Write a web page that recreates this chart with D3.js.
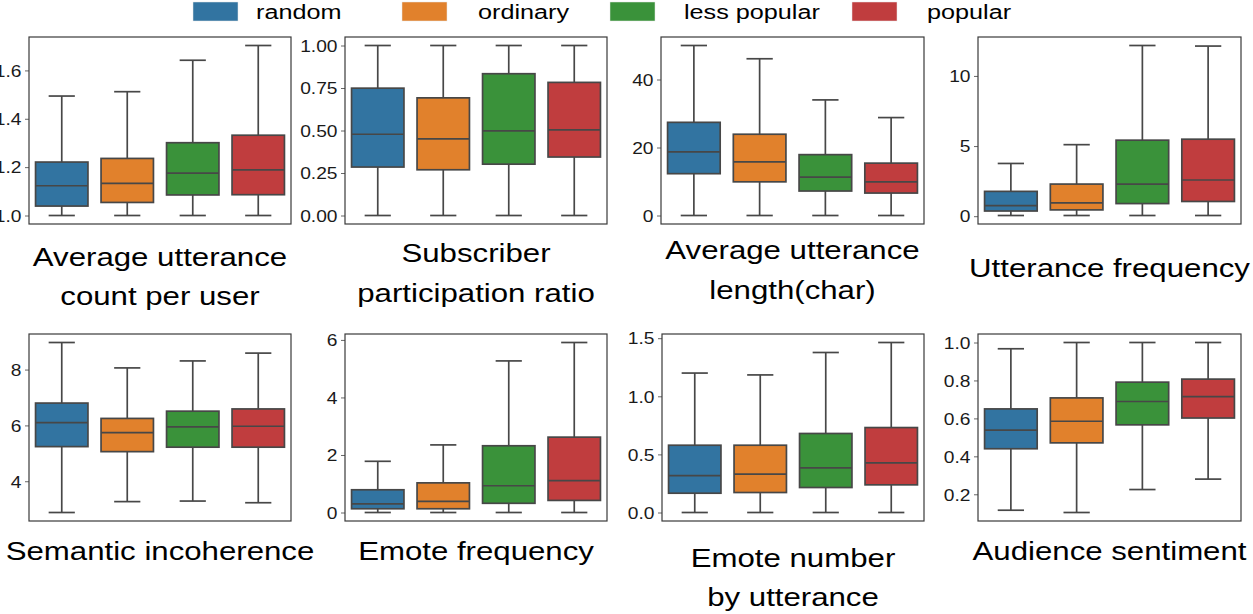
<!DOCTYPE html>
<html>
<head>
<meta charset="utf-8">
<script src="https://cdn.jsdelivr.net/npm/d3@7/dist/d3.min.js"></script>
<style>
  html, body { margin: 0; padding: 0; background: #fff; }
  svg { display: block; font-family: "Liberation Sans", Arial, Helvetica, sans-serif; }
</style>
</head>
<body>
<svg id="chart" width="1253" height="614"></svg>
<script>
// ---------------- data ----------------
const groups = ["random", "ordinary", "less popular", "popular"];
const colors = ["#3274a1", "#e1812c", "#3a923a", "#c03d3e"];

// each row: [lower whisker, Q1, median, Q3, upper whisker]
const uttCount = [
  [1.0, 1.039, 1.123, 1.221, 1.494],
  [1.0, 1.054, 1.133, 1.236, 1.512],
  [1.0, 1.085, 1.175, 1.301, 1.642],
  [1.0, 1.086, 1.189, 1.332, 1.703]
];
const subRatio = [
  [0, 0.285, 0.478, 0.749, 1.0],
  [0, 0.269, 0.451, 0.692, 1.0],
  [0, 0.302, 0.498, 0.834, 1.0],
  [0, 0.344, 0.504, 0.783, 1.0]
];
const uttLength = [
  [0, 12.3, 18.7, 27.4, 50.0],
  [0, 9.9, 15.8, 23.9, 46.1],
  [0, 7.2, 11.3, 17.9, 34.0],
  [0, 6.6, 9.9, 15.4, 28.8]
];
const uttFreq = [
  [0.05, 0.37, 0.76, 1.77, 3.76],
  [0.05, 0.45, 0.95, 2.29, 5.10],
  [0.05, 0.90, 2.29, 5.42, 12.17],
  [0.05, 1.05, 2.58, 5.49, 12.13]
];
const semantic = [
  [2.88, 5.24, 6.10, 6.80, 8.97],
  [3.27, 5.06, 5.74, 6.25, 8.06],
  [3.29, 5.22, 5.95, 6.51, 8.31],
  [3.23, 5.22, 5.97, 6.59, 8.59]
];
const emoteFreq = [
  [0, 0.13, 0.30, 0.79, 1.78],
  [0, 0.13, 0.39, 1.03, 2.35],
  [0, 0.32, 0.93, 2.32, 5.27],
  [0, 0.42, 1.11, 2.62, 5.91]
];
const emoteNum = [
  [0, 0.166, 0.318, 0.579, 1.20],
  [0, 0.172, 0.330, 0.579, 1.184],
  [0, 0.215, 0.384, 0.680, 1.377],
  [0, 0.238, 0.427, 0.731, 1.463]
];
const sentiment = [
  [0.116, 0.440, 0.538, 0.650, 0.967],
  [0.104, 0.471, 0.585, 0.708, 1.0],
  [0.225, 0.566, 0.689, 0.791, 1.0],
  [0.280, 0.602, 0.715, 0.807, 1.0]
];

const ticks1 = [1.0, 1.2, 1.4, 1.6];
const ticks2 = [0, 0.25, 0.5, 0.75, 1.0];
const ticks3 = [0, 20, 40];
const ticks4 = [0, 5, 10];
const ticks5 = [4, 6, 8];
const ticks6 = [0, 2, 4, 6];
const ticks7 = [0, 0.5, 1.0, 1.5];
const ticks8 = [0.2, 0.4, 0.6, 0.8, 1.0];

const titles1 = ["Average utterance", "count per user"];
const titles2 = ["Subscriber", "participation ratio"];
const titles3 = ["Average utterance", "length(char)"];
const titles4 = ["Utterance frequency"];
const titles5 = ["Semantic incoherence"];
const titles6 = ["Emote frequency"];
const titles7 = ["Emote number", "by utterance"];
const titles8 = ["Audience sentiment"];

// ---------------- layout ----------------
const SX = 1.2;           // horizontal stretch of the original figure's text
const EDGE = "#474747";
const svg = d3.select("#chart");

function stretchedText(parent, x, y, str, size, anchor, color) {
  const g = parent.append("g").attr("transform", `translate(${x},${y}) scale(${SX},1)`);
  g.append("text")
    .attr("x", 0).attr("y", 0)
    .attr("text-anchor", anchor)
    .style("font-size", size + "px")
    .attr("fill", color || "#000")
    .text(str);
  return g;
}

const panels = [
  { data: uttCount,  ticks: ticks1, fmt: d3.format(".1f"),  titles: titles1, x0: 29,  x1: 291,  row: 0, ty: [266, 305] },
  { data: subRatio,  ticks: ticks2, fmt: d3.format(".2f"),  titles: titles2, x0: 345, x1: 607,  row: 0, ty: [262, 302] },
  { data: uttLength, ticks: ticks3, fmt: d3.format("d"),    titles: titles3, x0: 661, x1: 924,  row: 0, ty: [259, 299] },
  { data: uttFreq,   ticks: ticks4, fmt: d3.format("d"),    titles: titles4, x0: 978, x1: 1241, row: 0, ty: [277] },
  { data: semantic,  ticks: ticks5, fmt: d3.format("d"),    titles: titles5, x0: 29,  x1: 291,  row: 1, ty: [560] },
  { data: emoteFreq, ticks: ticks6, fmt: d3.format("d"),    titles: titles6, x0: 345, x1: 607,  row: 1, ty: [560] },
  { data: emoteNum,  ticks: ticks7, fmt: d3.format(".1f"),  titles: titles7, x0: 662, x1: 924,  row: 1, ty: [567, 606] },
  { data: sentiment, ticks: ticks8, fmt: d3.format(".1f"),  titles: titles8, x0: 978, x1: 1241, row: 1, ty: [560] }
];
const rowY = [[37, 224], [334, 521]];

panels.forEach(p => {
  const [yTop, yBot] = rowY[p.row];
  const lo = d3.min(p.data, d => d[0]);
  const hi = d3.max(p.data, d => d[4]);
  const pad = (hi - lo) * 0.05;
  const y = d3.scaleLinear().domain([lo - pad, hi + pad]).range([yBot, yTop]);
  const x = d3.scaleBand().domain(groups).range([p.x0, p.x1]).paddingInner(0.2).paddingOuter(0.1);
  const g = svg.append("g");

  // y axis
  const ax = g.append("g")
    .attr("transform", `translate(${p.x0},0)`)
    .call(d3.axisLeft(y).tickValues(p.ticks).tickFormat(p.fmt).tickSize(4).tickPadding(4));
  ax.attr("font-size", null).attr("font-family", null);
  ax.select(".domain").remove();
  ax.selectAll(".tick line").attr("stroke", "#666").attr("stroke-width", 1);
  ax.selectAll(".tick text")
    .style("font-size", "16px")
    .style("font-family", "'Liberation Sans', Arial, sans-serif")
    .attr("fill", "#1a1a1a")
    .attr("x", -7.5 / SX)
    .attr("dy", "0.36em")
    .attr("transform", `scale(${SX},1)`);

  // boxes
  const bw = x.bandwidth();
  p.data.forEach((d, i) => {
    const cx = x(groups[i]) + bw / 2;
    const bg = g.append("g").attr("stroke", EDGE).attr("stroke-width", 1.7).attr("fill", "none");
    // whiskers
    bg.append("line").attr("x1", cx).attr("x2", cx).attr("y1", y(d[0])).attr("y2", y(d[1]));
    bg.append("line").attr("x1", cx).attr("x2", cx).attr("y1", y(d[3])).attr("y2", y(d[4]));
    // caps
    bg.append("line").attr("x1", cx - bw / 4).attr("x2", cx + bw / 4).attr("y1", y(d[0])).attr("y2", y(d[0]));
    bg.append("line").attr("x1", cx - bw / 4).attr("x2", cx + bw / 4).attr("y1", y(d[4])).attr("y2", y(d[4]));
    // box
    bg.append("rect")
      .attr("x", x(groups[i])).attr("width", bw)
      .attr("y", y(d[3])).attr("height", y(d[1]) - y(d[3]))
      .attr("fill", colors[i]);
    // median
    bg.append("line").attr("x1", x(groups[i])).attr("x2", x(groups[i]) + bw)
      .attr("y1", y(d[2])).attr("y2", y(d[2]));
  });

  // frame
  g.append("rect")
    .attr("x", p.x0).attr("y", yTop)
    .attr("width", p.x1 - p.x0).attr("height", yBot - yTop)
    .attr("fill", "none").attr("stroke", "#3a3a3a").attr("stroke-width", 1.2);

  // title
  const cx = (p.x0 + p.x1) / 2;
  p.titles.forEach((t, k) => stretchedText(svg, cx, p.ty[k], t, 26, "middle"));
});

// ---------------- legend ----------------
const legPatchX = [193, 402, 610, 852];
const legTextX = [256, 478, 684, 927];
groups.forEach((name, i) => {
  svg.append("rect")
    .attr("x", legPatchX[i]).attr("y", 2)
    .attr("width", 45).attr("height", 19)
    .attr("fill", colors[i]).attr("stroke", "#e8e8e8").attr("stroke-width", 0.5);
  stretchedText(svg, legTextX[i], 18.5, name, 21, "start");
});
</script>
</body>
</html>
